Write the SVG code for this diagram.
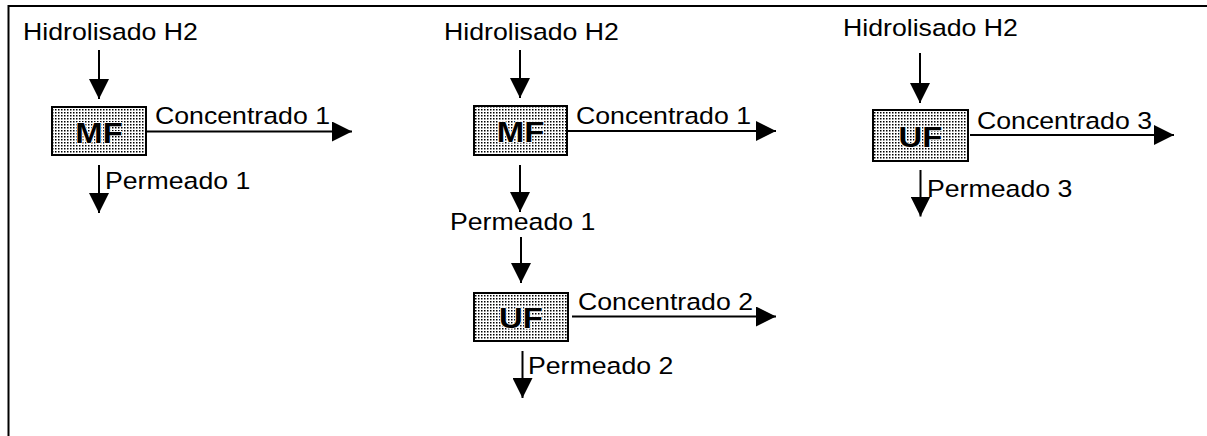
<svg xmlns="http://www.w3.org/2000/svg" width="1207" height="436" viewBox="0 0 1207 436">
  <style>
    .lbl { font-family: "Liberation Sans", Arial, sans-serif; font-size: 23.5px; fill: #000; }
    .unit { font-family: "Liberation Sans", Arial, sans-serif; font-size: 29px; font-weight: bold; fill: #000; text-anchor: middle; stroke: #fff; stroke-width: 1.5px; paint-order: stroke; }
    .box { fill: url(#dots); stroke: #000; stroke-width: 2; }
    .flow { fill: none; stroke: #000; stroke-width: 2; marker-end: url(#head); }
    .frame { fill: none; stroke: #000; stroke-width: 2; }
  </style>
  <defs>
    <!-- stippled fill of the membrane units -->
    <pattern id="dots" width="3" height="3" patternUnits="userSpaceOnUse">
      <rect width="3" height="3" fill="#fff"/>
      <rect x="1" y="1" width="1.5" height="1.5" fill="#000"/>
    </pattern>
    <marker id="head" markerUnits="userSpaceOnUse" markerWidth="20" markerHeight="20" refX="20" refY="10" orient="auto">
      <path d="M0,0 L20,10 L0,20 Z" fill="#000"/>
    </marker>
  </defs>

  <rect width="1207" height="436" fill="#fff"/>
  <path class="frame" d="M8.5,436 V6 H1207"/>

  <!-- flow lines -->
  <g id="connectors">
    <!-- scheme 1 -->
    <line class="flow" x1="99" y1="50" x2="99" y2="99"/>
    <line class="flow" x1="147" y1="131.5" x2="352" y2="131.5"/>
    <line class="flow" x1="99" y1="165" x2="99" y2="213"/>
    <!-- scheme 2 -->
    <line class="flow" x1="520" y1="50" x2="520" y2="98"/>
    <line class="flow" x1="567" y1="131" x2="776" y2="131"/>
    <line class="flow" x1="520" y1="165" x2="520" y2="212"/>
    <line class="flow" x1="521" y1="237" x2="521" y2="283"/>
    <line class="flow" x1="572" y1="316.5" x2="776" y2="316.5"/>
    <line class="flow" x1="522.5" y1="351" x2="522.5" y2="398"/>
    <!-- scheme 3 -->
    <line class="flow" x1="920" y1="53" x2="920" y2="103"/>
    <line class="flow" x1="970" y1="135" x2="1174" y2="135"/>
    <line class="flow" x1="920.5" y1="170" x2="920.5" y2="216.5"/>
  </g>

  <!-- scheme 1 -->
  <g id="feed1"><text class="lbl" transform="translate(23,39.5) scale(1.136,1)">Hidrolisado H2</text></g>
  <g id="mf1">
    <rect class="box" x="52" y="107" width="94" height="48"/>
    <text class="unit" transform="translate(99,142.5) scale(1.136,1)">MF</text>
  </g>
  <g id="conc1a"><text class="lbl" transform="translate(155,124) scale(1.136,1)">Concentrado 1</text></g>
  <g id="perm1a"><text class="lbl" transform="translate(105,189) scale(1.136,1)">Permeado 1</text></g>

  <!-- scheme 2 -->
  <g id="feed2"><text class="lbl" transform="translate(444,39.5) scale(1.136,1)">Hidrolisado H2</text></g>
  <g id="mf2">
    <rect class="box" x="474" y="106" width="93" height="49"/>
    <text class="unit" transform="translate(520.5,141.5) scale(1.136,1)">MF</text>
  </g>
  <g id="conc1b"><text class="lbl" transform="translate(576,123.5) scale(1.136,1)">Concentrado 1</text></g>
  <g id="perm1b"><text class="lbl" transform="translate(450,230) scale(1.136,1)">Permeado 1</text></g>
  <g id="uf2">
    <rect class="box" x="474" y="293" width="94" height="48"/>
    <text class="unit" transform="translate(521,328) scale(1.136,1)">UF</text>
  </g>
  <g id="conc2"><text class="lbl" transform="translate(578,310) scale(1.136,1)">Concentrado 2</text></g>
  <g id="perm2"><text class="lbl" transform="translate(528,374) scale(1.136,1)">Permeado 2</text></g>

  <!-- scheme 3 -->
  <g id="feed3"><text class="lbl" transform="translate(843,36) scale(1.136,1)">Hidrolisado H2</text></g>
  <g id="uf3">
    <rect class="box" x="873" y="110" width="95" height="51"/>
    <text class="unit" transform="translate(920.5,146.5) scale(1.136,1)">UF</text>
  </g>
  <g id="conc3"><text class="lbl" transform="translate(977,128.5) scale(1.136,1)">Concentrado 3</text></g>
  <g id="perm3"><text class="lbl" transform="translate(927,197) scale(1.136,1)">Permeado 3</text></g>
</svg>
